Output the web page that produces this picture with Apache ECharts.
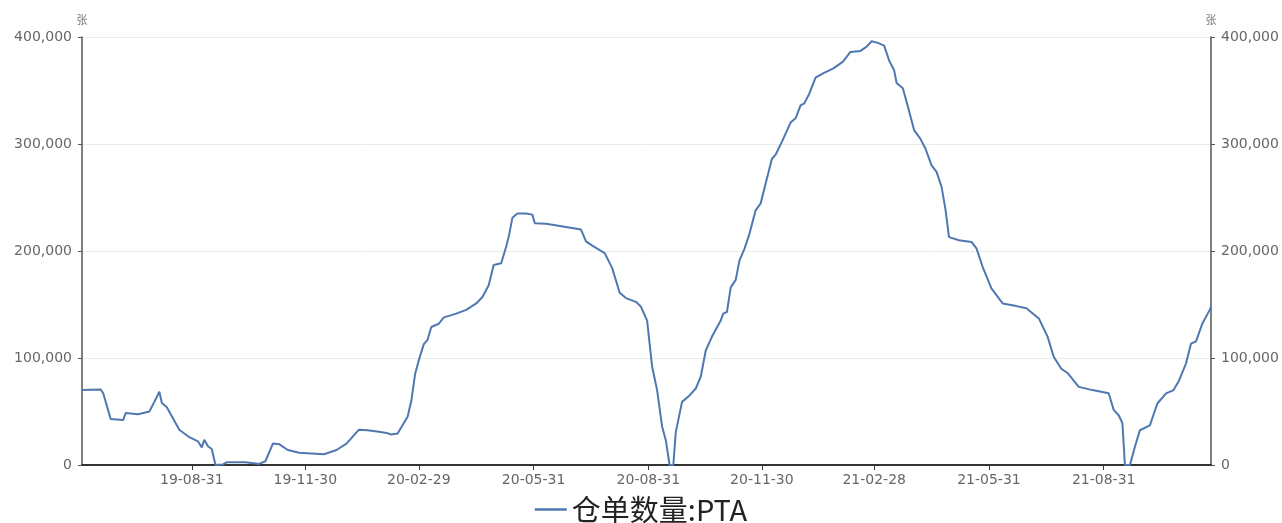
<!DOCTYPE html>
<html>
<head>
<meta charset="utf-8">
<script src="https://cdn.jsdelivr.net/npm/echarts@6/dist/echarts.min.js"></script>
<style>
html,body{margin:0;padding:0;background:#fff;}
#chart{width:1282px;height:523px;}
</style>
</head>
<body>
<div id="chart"></div>
<script>
const seriesName = '仓单数量:PTA';
const unitName = '张';
const dates = [
'2019-06-04','2019-06-19','2019-06-21','2019-06-27','2019-07-07','2019-07-09','2019-07-19','2019-07-28',
'2019-08-01','2019-08-05','2019-08-07','2019-08-11','2019-08-21','2019-08-29','2019-09-05','2019-09-08',
'2019-09-10','2019-09-13','2019-09-16','2019-09-19','2019-09-25','2019-09-28','2019-10-13','2019-10-24',
'2019-10-29','2019-11-04','2019-11-09','2019-11-16','2019-11-25','2019-12-15','2019-12-25','2020-01-02',
'2020-01-12','2020-01-19','2020-01-28','2020-02-03','2020-02-07','2020-02-12','2020-02-20','2020-02-23',
'2020-02-26','2020-02-29','2020-03-04','2020-03-07','2020-03-10','2020-03-16','2020-03-20','2020-03-30',
'2020-04-07','2020-04-15','2020-04-20','2020-04-25','2020-04-29','2020-05-05','2020-05-09','2020-05-11',
'2020-05-14','2020-05-18','2020-05-25','2020-05-30','2020-06-01','2020-06-10','2020-06-26','2020-07-08',
'2020-07-12','2020-07-17','2020-07-27','2020-08-02','2020-08-08','2020-08-13','2020-08-21','2020-08-25',
'2020-08-30','2020-09-03','2020-09-07','2020-09-11','2020-09-14','2020-09-17','2020-09-20','2020-09-22',
'2020-09-27','2020-10-03','2020-10-08','2020-10-12','2020-10-16','2020-10-21','2020-10-28','2020-10-30',
'2020-11-02','2020-11-05','2020-11-09','2020-11-12','2020-11-16','2020-11-20','2020-11-25','2020-11-29',
'2020-12-03','2020-12-08','2020-12-11','2020-12-16','2020-12-23','2020-12-27','2020-12-31','2021-01-03',
'2021-01-07','2021-01-12','2021-01-18','2021-01-26','2021-02-03','2021-02-09','2021-02-17','2021-02-22',
'2021-02-26','2021-03-03','2021-03-08','2021-03-12','2021-03-16','2021-03-18','2021-03-23','2021-03-27',
'2021-04-01','2021-04-06','2021-04-10','2021-04-15','2021-04-19','2021-04-23','2021-04-26','2021-04-29',
'2021-05-07','2021-05-17','2021-05-21','2021-05-26','2021-06-02','2021-06-11','2021-06-22','2021-06-30',
'2021-07-10','2021-07-17','2021-07-22','2021-07-28','2021-08-02','2021-08-11','2021-08-22','2021-09-04',
'2021-09-08','2021-09-12','2021-09-15','2021-09-17','2021-09-21','2021-09-25','2021-09-29','2021-10-07',
'2021-10-13','2021-10-20','2021-10-26','2021-10-30','2021-11-05','2021-11-09','2021-11-13','2021-11-18',
'2021-11-24','2021-11-25'
];
const values = [
70000,70500,67000,43000,42000,48500,47500,50000,
59000,68500,58000,54000,33000,26000,22000,16500,
23500,17500,15000,0,500,2500,2500,1000,
3500,20000,19500,14000,11500,10000,14000,20000,
33000,32500,31000,30000,28500,29500,45000,60000,
85000,98000,113000,117000,129000,132000,138000,141500,
145000,151000,157000,168000,187000,188500,204000,213000,
231000,235000,235000,234000,226000,225500,222500,220000,
209000,205000,198000,184000,161000,156000,152500,148000,
135000,92000,70000,36000,23000,0,0,31000,
59000,65000,71500,82500,107000,120000,135000,141500,
143000,166000,173000,191000,202000,216000,238000,244500,
263000,286000,290000,302000,320000,324000,336000,338000,
347000,362000,366000,370500,377000,386000,387000,391000,
396000,394500,392000,378000,369000,357000,352000,335000,
313000,305000,296000,280000,274000,260000,240000,213000,
210000,208500,202500,185000,165000,151000,148500,146500,
137000,120000,101000,90000,86000,73000,70000,67000,
51500,46500,39000,0,0,17000,32500,37000,
57500,67000,70000,78000,95000,113500,115500,132000,
145000,148000
];
const tickDates = ['2019-08-31','2019-11-30','2020-02-29','2020-05-31','2020-08-31','2020-11-30','2021-02-28','2021-05-31','2021-08-31'];
const xMin = '2019-06-04';
const xMax = '2021-11-25';

function ts(s){const p=s.split('-').map(Number);return Date.UTC(p[0],p[1]-1,p[2]);}
function pad(n){return (n<10?'0':'')+n;}
function fmtDate(v){const d=new Date(v);return pad(d.getUTCFullYear()%100)+'-'+pad(d.getUTCMonth()+1)+'-'+pad(d.getUTCDate());}
function fmtNum(v){return String(Math.round(v)).replace(/\B(?=(\d{3})+(?!\d))/g, ',');}

const data = dates.map((d,i)=>[ts(d),values[i]]);
const tickTs = tickDates.map(ts);

const chart = echarts.init(document.getElementById('chart'), null, {renderer:'canvas'});
const yAxisCommon = {
  type:'value', min:0, max:400000, interval:100000,
  name:unitName, nameLocation:'end', nameGap:12,
  nameTextStyle:{color:'#777', fontSize:11, fontFamily:'Noto Sans CJK SC'},
  axisLine:{show:true, lineStyle:{color:'#555', width:1.5}},
  axisTick:{show:true, length:4, lineStyle:{color:'#555'}},
  axisLabel:{color:'#666', fontSize:14, fontFamily:'DejaVu Sans', formatter:fmtNum, margin:10},
};
chart.setOption({
  animation:false,
  backgroundColor:'#fff',
  grid:{left:82, right:71, top:37, bottom:58, containLabel:false},
  legend:{
    data:[seriesName], top:490, left:'center',
    icon:'rect', itemWidth:32, itemHeight:2.5, itemGap:10,
    textStyle:{color:'#222', fontSize:29, fontFamily:'Noto Sans CJK SC'}
  },
  xAxis:{
    type:'value', min:ts(xMin), max:ts(xMax), scale:true,
    splitLine:{show:false},
    axisLine:{lineStyle:{color:'#333', width:2}},
    axisTick:{show:true, length:5, lineStyle:{color:'#333'}, customValues:tickTs},
    axisLabel:{color:'#666', fontSize:14, fontFamily:'DejaVu Sans', margin:8, customValues:tickTs, formatter:fmtDate, hideOverlap:false}
  },
  yAxis:[
    Object.assign({}, yAxisCommon, {position:'left', splitLine:{show:true, lineStyle:{color:'#ebebeb', width:1}}}),
    Object.assign({}, yAxisCommon, {position:'right', splitLine:{show:false}})
  ],
  series:[{
    name:seriesName, type:'line', yAxisIndex:0, data:data,
    symbol:'none', showSymbol:false,
    lineStyle:{color:'#4f78b0', width:2},
    itemStyle:{color:'#4f78b0'}
  }]
});
</script>
</body>
</html>
